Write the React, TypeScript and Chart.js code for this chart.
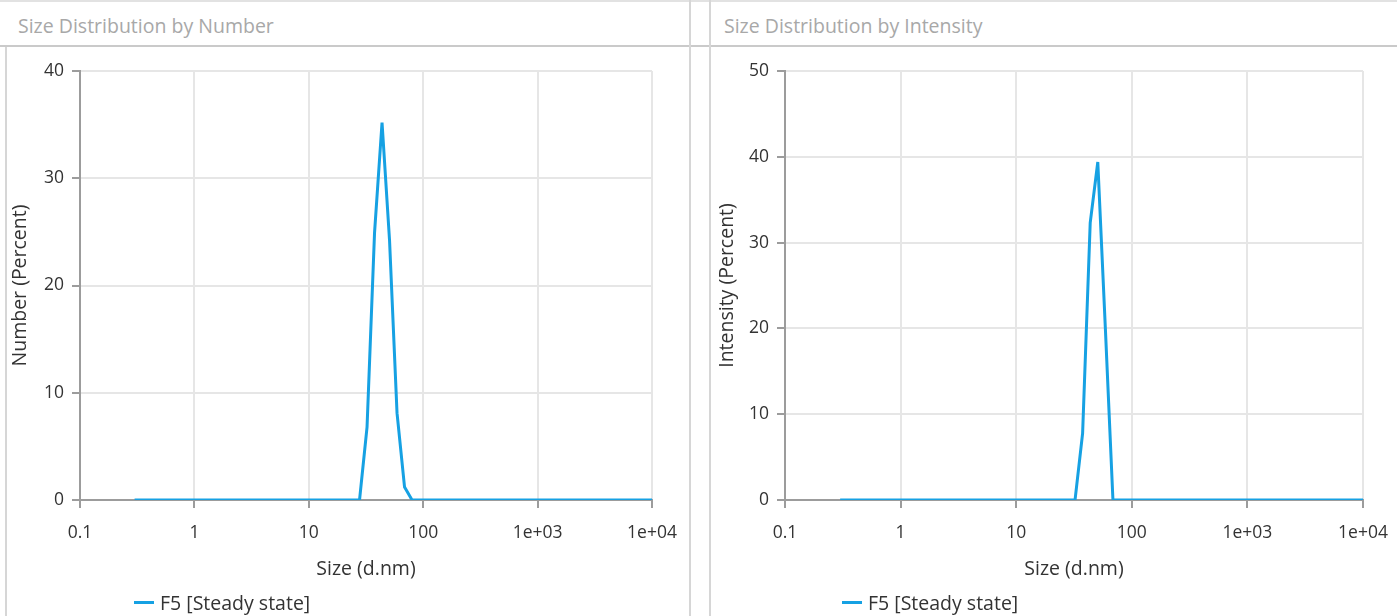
import React, { useEffect, useRef } from "react";
import { Chart, registerables } from "chart.js";

Chart.register(...registerables);

// Size classes (d.nm)
const sizes = [
  0.3, 0.3489, 0.4057, 0.4718, 0.5487, 0.6381, 0.7421, 0.863, 1.004, 1.167,
  1.357, 1.578, 1.836, 2.135, 2.483, 2.887, 3.357, 3.904, 4.54, 5.28,
  6.141, 7.139, 8.303, 9.656, 11.23, 13.06, 15.18, 17.65, 20.53, 23.88,
  27.77, 32.29, 37.55, 43.67, 50.79, 59.06, 68.69, 79.88, 92.9, 108.0,
  125.6, 146.1, 169.9, 197.6, 229.8, 267.2, 310.8, 361.4, 420.3, 488.8,
  568.4, 661.1, 768.8, 894.0, 1040, 1209, 1406, 1635, 1902, 2212,
  2572, 2991, 3479, 4046, 4705, 5471, 6363, 7400, 8605, 10000,
];

// Number distribution (Percent)
const numberPercent = [
  0, 0, 0, 0, 0, 0, 0, 0, 0, 0,
  0, 0, 0, 0, 0, 0, 0, 0, 0, 0,
  0, 0, 0, 0, 0, 0, 0, 0, 0, 0,
  0, 6.8, 24.9, 35.2, 24.2, 8.1, 1.2, 0, 0, 0,
  0, 0, 0, 0, 0, 0, 0, 0, 0, 0,
  0, 0, 0, 0, 0, 0, 0, 0, 0, 0,
  0, 0, 0, 0, 0, 0, 0, 0, 0, 0,
];

// Intensity distribution (Percent)
const intensityPercent = [
  0, 0, 0, 0, 0, 0, 0, 0, 0, 0,
  0, 0, 0, 0, 0, 0, 0, 0, 0, 0,
  0, 0, 0, 0, 0, 0, 0, 0, 0, 0,
  0, 0, 7.8, 32.3, 39.4, 20.0, 0, 0, 0, 0,
  0, 0, 0, 0, 0, 0, 0, 0, 0, 0,
  0, 0, 0, 0, 0, 0, 0, 0, 0, 0,
  0, 0, 0, 0, 0, 0, 0, 0, 0, 0,
];

const xTickValues = [0.1, 1, 10, 100, 1000, 10000];
const xTickLabels = ["0.1", "1", "10", "100", "1e+03", "1e+04"];
const seriesLabel = "F5 [Steady state]";
const xAxisTitle = "Size (d.nm)";

const FONT = "'Segoe UI', 'Open Sans', 'Noto Sans', sans-serif";
const LINE_COLOR = "#16a1e3";
const AXIS_COLOR = "#9c9c9c";
const GRID_COLOR = "#e6e6e6";
const TEXT_COLOR = "#333333";

type PanelProps = {
  left: number;
  width: number;
  values: number[];
  yMax: number;
  yTitle: string;
  padLeft: number;
  yWidth: number;
  padRight: number;
};

function ChartPanel(p: PanelProps) {
  const ref = useRef<HTMLCanvasElement | null>(null);
  const height = 616 - 47;
  useEffect(() => {
    if (!ref.current) return;
    const chart = new Chart(ref.current, {
      type: "line",
      data: {
        datasets: [
          {
            label: seriesLabel,
            data: sizes.map((s, i) => ({ x: s, y: p.values[i] })),
            borderColor: LINE_COLOR,
            backgroundColor: LINE_COLOR,
            borderWidth: 3,
            pointRadius: 0,
            tension: 0,
            fill: false,
          },
        ],
      },
      options: {
        animation: false,
        responsive: false,
        maintainAspectRatio: false,
        layout: { padding: { left: p.padLeft, right: p.padRight, top: 24, bottom: 35 } },
        plugins: { legend: { display: false }, tooltip: { enabled: false } },
        scales: {
          x: {
            type: "logarithmic",
            min: 0.1,
            max: 10000,
            afterBuildTicks: (s: any) => {
              s.ticks = xTickValues.map((v) => ({ value: v }));
            },
            afterFit: (s: any) => {
              s.height = 81;
              s.paddingLeft = 0;
              s.paddingRight = 0;
            },
            ticks: {
              autoSkip: false,
              maxRotation: 0,
              padding: 15,
              color: TEXT_COLOR,
              font: { family: FONT, size: 17.5 },
              callback: (_v: any, i: number) => xTickLabels[i],
            },
            grid: {
              color: GRID_COLOR,
              lineWidth: 2,
              tickColor: AXIS_COLOR,
              tickLength: 8,
              tickWidth: 2,
            },
            border: { color: AXIS_COLOR, width: 2 },
            title: {
              display: true,
              text: xAxisTitle,
              color: TEXT_COLOR,
              font: { family: FONT, size: 19.5 },
              padding: 0,
            },
          },
          y: {
            type: "linear",
            min: 0,
            max: p.yMax,
            afterFit: (s: any) => {
              s.width = p.yWidth;
            },
            ticks: {
              stepSize: 10,
              padding: 8,
              color: TEXT_COLOR,
              font: { family: FONT, size: 17.5 },
            },
            grid: {
              color: GRID_COLOR,
              lineWidth: 2,
              tickColor: AXIS_COLOR,
              tickLength: 8,
              tickWidth: 2,
            },
            border: { color: AXIS_COLOR, width: 2 },
            title: {
              display: true,
              text: p.yTitle,
              color: TEXT_COLOR,
              font: { family: FONT, size: 19.5 },
              padding: 0,
            },
          },
        },
      },
    } as any);
    return () => chart.destroy();
  }, []);
  return (
    <canvas
      ref={ref}
      width={p.width}
      height={height}
      style={{ position: "absolute", left: p.left, top: 47, width: p.width, height, display: "block" }}
    />
  );
}

function Legend({ left }: { left: number }) {
  return (
    <div
      style={{
        position: "absolute",
        left,
        top: 589,
        height: 26,
        display: "flex",
        alignItems: "center",
        fontFamily: FONT,
        fontSize: 19.5,
        color: TEXT_COLOR,
        whiteSpace: "nowrap",
      }}
    >
      <span style={{ display: "inline-block", width: 20, height: 3, background: LINE_COLOR, marginRight: 6 }} />
      <span>{seriesLabel}</span>
    </div>
  );
}

export default function App() {
  const title: React.CSSProperties = {
    position: "absolute",
    top: 11,
    fontFamily: FONT,
    fontSize: 19.5,
    color: "#a8a8a8",
    whiteSpace: "nowrap",
    lineHeight: "30px",
  };
  return (
    <div
      style={{
        position: "absolute",
        left: 0,
        top: 0,
        width: 1397,
        height: 616,
        background: "#fff",
        overflow: "hidden",
      }}
    >
      <div style={{ position: "absolute", left: 0, top: 0, width: 1397, height: 2, background: "#e2e2e2" }} />
      <div style={{ position: "absolute", left: 0, top: 45, width: 1397, height: 2, background: "#cacaca" }} />
      <div style={{ position: "absolute", left: 5, top: 47, width: 1.5, height: 569, background: "#d6d6d6" }} />
      <div style={{ position: "absolute", left: 689, top: 0, width: 1.5, height: 616, background: "#d6d6d6" }} />
      <div style={{ position: "absolute", left: 709, top: 0, width: 1.5, height: 616, background: "#d6d6d6" }} />
      <div style={{ ...title, left: 18 }}>Size Distribution by Number</div>
      <div style={{ ...title, left: 724 }}>Size Distribution by Intensity</div>
      <ChartPanel
        left={7}
        width={682}
        values={numberPercent}
        yMax={40}
        yTitle="Number (Percent)"
        padLeft={2}
        yWidth={71}
        padRight={37}
      />
      <ChartPanel
        left={711}
        width={686}
        values={intensityPercent}
        yMax={50}
        yTitle="Intensity (Percent)"
        padLeft={5}
        yWidth={69}
        padRight={34}
      />
      <Legend left={134} />
      <Legend left={842} />
    </div>
  );
}
